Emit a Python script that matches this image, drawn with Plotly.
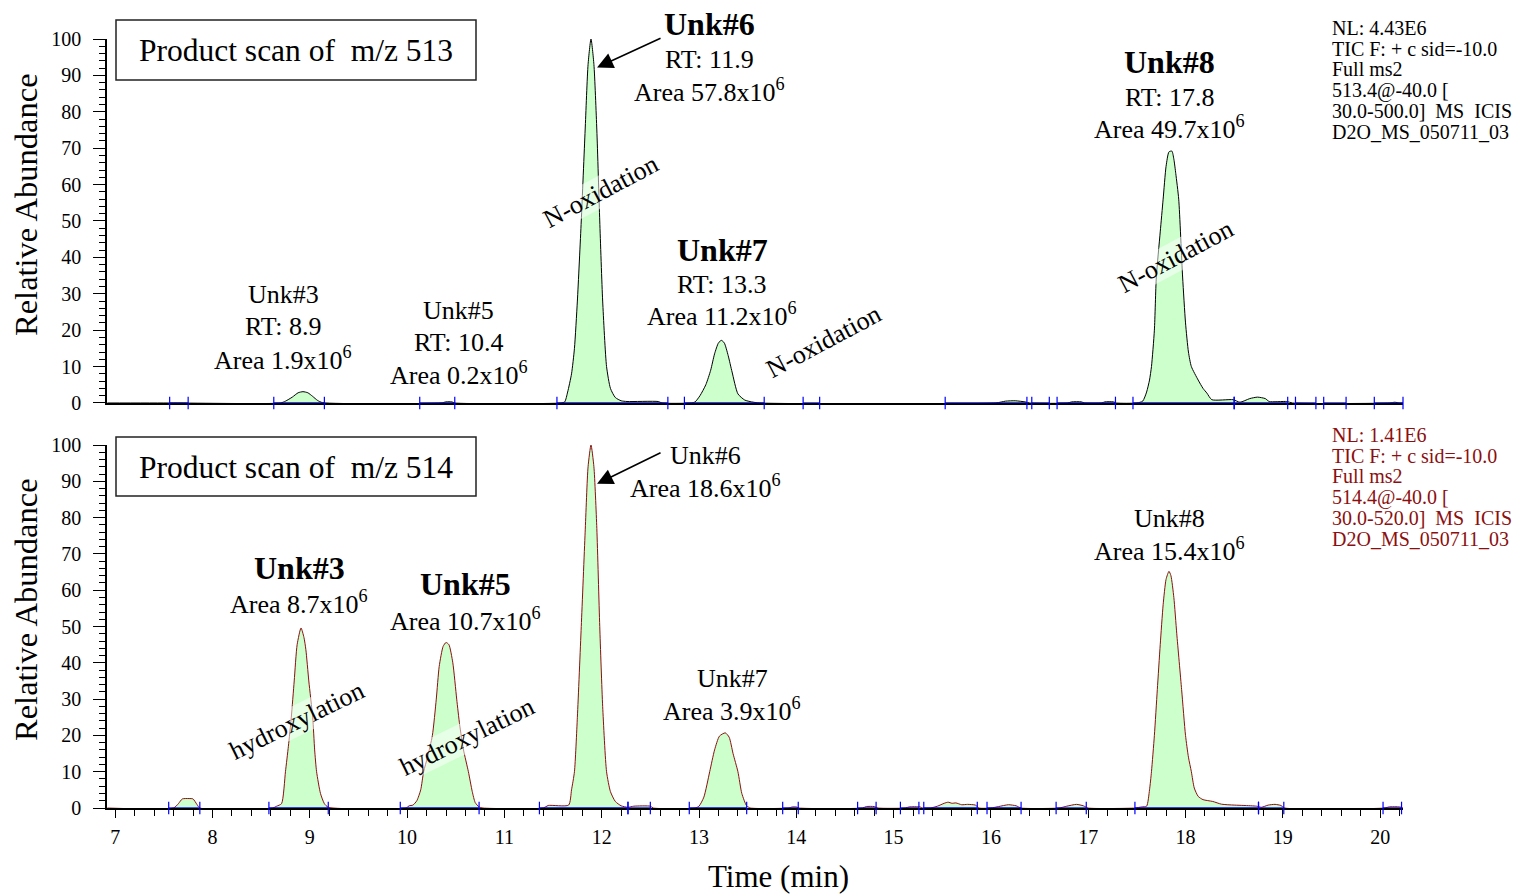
import plotly.graph_objects as go

FONT = "Liberation Serif, Times New Roman, serif"

# ---------------- data: m/z 513 (top panel) ----------------
time_513 = [6.92, 7.60, 8.70, 8.75, 8.82, 8.88, 8.93, 8.98, 9.03, 9.08, 9.13, 10.35, 10.40, 10.46, 10.49,
            11.58, 11.62, 11.65, 11.69, 11.72, 11.75, 11.79, 11.83, 11.86, 11.89, 11.92, 11.95, 11.98, 12.01,
            12.05, 12.09, 12.14, 12.20, 12.26, 12.58, 12.62,
            12.92, 12.96, 13.01, 13.07, 13.12, 13.16, 13.20, 13.23, 13.26, 13.30, 13.34, 13.40, 13.47, 13.54, 13.62,
            16.05, 16.15, 16.25, 16.35, 16.40, 16.79, 16.83, 16.93, 16.96, 17.14, 17.17, 17.26, 17.29,
            17.50, 17.56, 17.60, 17.63, 17.65, 17.68, 17.70, 17.74, 17.77, 17.80, 17.83, 17.86, 17.88, 17.90,
            17.93, 17.97, 18.00, 18.03, 18.06, 18.13, 18.18, 18.22, 18.27, 18.49, 18.56, 18.66, 18.74, 18.82,
            18.86, 19.04, 19.10, 20.10, 20.15, 20.20, 20.235]
abund_513 = [0, 0, 0, 0.5, 1.6, 2.8, 3.1, 2.8, 1.8, 0.7, 0.1, 0, 0.3, 0.3, 0,
             0, 0.3, 3, 8, 15, 28, 50, 75, 93, 100, 93, 75, 50, 28,
             10, 4, 1.5, 0.6, 0.4, 0.4, 0,
             0, 0.3, 2, 5, 9, 13.5, 16.5, 17.2, 16.5, 13, 8.5, 2.5, 0.8, 0.3, 0,
             0, 0.5, 0.6, 0.3, 0, 0, 0.3, 0.3, 0, 0, 0.3, 0.3, 0,
             0, 0.5, 3, 6.3, 10, 20, 34.6, 47, 56, 65, 69, 69.2, 67, 63,
             56, 34.6, 22, 14, 10, 6.3, 4, 2.7, 0.9, 0.9, 0.2, 1.2, 1.6, 1.2,
             0.4, 0.4, 0, 0, 0.2, 0, 0]

# ---------------- data: m/z 514 (bottom panel) ----------------
time_514 = [6.92, 7.60, 7.65, 7.69, 7.76, 7.80, 7.84, 7.87,
            8.62, 8.66, 8.71, 8.75, 8.78, 8.81, 8.84, 8.87, 8.91, 8.94, 8.96, 8.99, 9.03, 9.05, 9.07, 9.11, 9.15, 9.19,
            9.99, 10.02, 10.06, 10.10, 10.14, 10.17, 10.21, 10.26, 10.30, 10.33, 10.37, 10.40, 10.43, 10.47, 10.51,
            10.54, 10.58, 10.63, 10.67, 10.70, 10.74, 10.78,
            11.40, 11.45, 11.66, 11.69, 11.72, 11.75, 11.79, 11.83, 11.86, 11.89, 11.92, 11.95, 11.98, 12.01,
            12.05, 12.09, 12.14, 12.20, 12.27, 12.33, 12.50, 12.53,
            12.96, 13.00, 13.05, 13.11, 13.16, 13.21, 13.27, 13.31, 13.35, 13.40, 13.44, 13.49, 13.53,
            13.92, 13.96, 14.00, 14.03, 14.68, 14.72, 14.80, 14.84, 15.12, 15.16, 15.27, 15.30,
            15.38, 15.45, 15.52, 15.56, 15.60, 15.64, 15.70, 15.76, 15.84, 15.88,
            16.00, 16.08, 16.18, 16.26, 16.31, 16.70, 16.78, 16.88, 16.95, 17.00,
            17.48, 17.55, 17.60, 17.63, 17.65, 17.68, 17.71, 17.74, 17.77, 17.80, 17.83, 17.85, 17.88, 17.91,
            17.96, 18.00, 18.03, 18.06, 18.09, 18.13, 18.18, 18.28, 18.37, 18.50, 18.60, 18.73, 18.78,
            18.85, 18.92, 18.98, 19.02, 20.05, 20.09, 20.20, 20.235]
abund_514 = [0, 0, 1.2, 2.5, 2.6, 2.5, 1.0, 0,
             0, 0.5, 1.2, 10, 17, 25, 35, 45, 49.6, 47, 43.6, 35, 25, 16, 10, 4, 1.2, 0.2,
             0, 0.6, 0.8, 2, 5, 10, 14, 20, 30, 39, 44.5, 45.6, 45, 40, 30,
             23, 16, 10, 4.5, 1.5, 0.3, 0,
             0, 0.7, 0.8, 5, 10, 25, 50, 76, 94, 100, 94, 77, 50, 28,
             10, 4.5, 1.8, 0.6, 0.2, 0.5, 0.5, 0,
             0, 0.5, 3, 10, 16, 19.8, 20.7, 19.5, 15, 10, 4, 0.6, 0,
             0, 0.3, 0.3, 0, 0, 0.4, 0.4, 0, 0, 0.3, 0.3, 0,
             0, 0.5, 1.3, 1.6, 1.3, 1.4, 0.9, 1.0, 0.8, 0,
             0, 0.4, 0.9, 0.6, 0, 0, 0.5, 1.0, 0.6, 0,
             0, 0.3, 0.5, 5, 10, 20, 32.6, 45, 56, 63, 65.2, 64, 58, 48,
             32.6, 20, 14, 10, 5.5, 3.2, 2.3, 1.8, 1.05, 0.8, 0.7, 0.5, 0.2,
             0.8, 1.0, 0.7, 0, 0, 0.3, 0.3, 0]

# integration baselines (start, end) in minutes
base_513_start = [7.56, 8.63, 10.13, 11.54, 12.85, 14.07, 15.53, 16.42, 16.68, 17.46, 18.50, 19.13, 19.42, 19.94]
base_513_end = [7.75, 9.15, 10.49, 12.68, 13.67, 14.24, 16.37, 16.60, 17.28, 18.50, 19.05, 19.34, 19.65, 20.235]
base_514_start = [7.55, 8.58, 9.93, 11.36, 12.27, 12.90, 13.86, 14.63, 15.07, 15.31, 15.96, 16.67, 17.48, 18.75, 20.03]
base_514_end = [7.87, 9.19, 10.74, 12.27, 12.50, 13.49, 14.02, 14.82, 15.26, 15.86, 16.31, 16.98, 18.75, 19.01, 20.22]

# ---------------- labels ----------------
x_tick_vals = [7, 8, 9, 10, 11, 12, 13, 14, 15, 16, 17, 18, 19, 20]
x_tick_text = ["7", "8", "9", "10", "11", "12", "13", "14", "15", "16", "17", "18", "19", "20"]
y_tick_vals = [0, 10, 20, 30, 40, 50, 60, 70, 80, 90, 100]
y_tick_text = ["0", "10", "20", "30", "40", "50", "60", "70", "80", "90", "100"]

info_513 = ["NL: 4.43E6", "TIC F: + c sid=-10.0", "Full ms2", "513.4@-40.0 [",
            "30.0-500.0]  MS  ICIS", "D2O_MS_050711_03"]
info_514 = ["NL: 1.41E6", "TIC F: + c sid=-10.0", "Full ms2", "514.4@-40.0 [",
            "30.0-520.0]  MS  ICIS", "D2O_MS_050711_03"]

# peak labels: (text, x[min], y[% abundance], size, bold)
labels_513 = [("Unk#3", 8.725, 29.7, 26, False), ("RT: 8.9", 8.725, 20.9, 26, False),
              ("Area 1.9x10<sup>6</sup>", 8.725, 12.1, 26, False),
              ("Unk#5", 10.53, 25.3, 26, False), ("RT: 10.4", 10.53, 16.5, 26, False),
              ("Area 0.2x10<sup>6</sup>", 10.53, 8.0, 26, False),
              ("Unk#6", 13.11, 104.2, 32, True), ("RT: 11.9", 13.11, 94.3, 26, False),
              ("Area 57.8x10<sup>6</sup>", 13.11, 85.8, 26, False),
              ("Unk#7", 13.24, 42.1, 32, True), ("RT: 13.3", 13.24, 32.5, 26, False),
              ("Area 11.2x10<sup>6</sup>", 13.24, 24.2, 26, False),
              ("Unk#8", 17.84, 93.6, 32, True), ("RT: 17.8", 17.84, 83.9, 26, False),
              ("Area 49.7x10<sup>6</sup>", 17.84, 75.6, 26, False)]
labels_514 = [("Unk#3", 8.89, 66.1, 32, True), ("Area 8.7x10<sup>6</sup>", 8.89, 56.6, 26, False),
              ("Unk#5", 10.60, 61.7, 32, True), ("Area 10.7x10<sup>6</sup>", 10.60, 51.8, 26, False),
              ("Unk#6", 13.07, 97.2, 26, False), ("Area 18.6x10<sup>6</sup>", 13.07, 88.5, 26, False),
              ("Unk#7", 13.34, 35.8, 26, False), ("Area 3.9x10<sup>6</sup>", 13.34, 27.1, 26, False),
              ("Unk#8", 17.84, 79.8, 26, False), ("Area 15.4x10<sup>6</sup>", 17.84, 71.1, 26, False)]
# rotated reaction labels: (text, x, y)
rot_513 = [("N-oxidation", 11.99, 58.1), ("N-oxidation", 14.28, 16.8), ("N-oxidation", 17.90, 40.2)]
rot_514 = [("hydroxylation", 8.87, 24.1), ("hydroxylation", 10.62, 19.7)]

DARKRED = "#8b0f0f"
FILL = "#ccffcc"

fig = go.Figure()


def chrom(x, y, color, xa, ya):
    fig.add_trace(go.Scatter(x=x, y=y, mode="lines", xaxis=xa, yaxis=ya,
                             line=dict(color=color, width=1, shape="spline", smoothing=0.6),
                             fill="tozeroy", fillcolor=FILL, hoverinfo="skip", showlegend=False))


def baselines(starts, ends, xa, ya):
    bx, by = [], []
    for s, e in zip(starts, ends):
        bx += [s, e, None]
        by += [0, 0, None]
    fig.add_trace(go.Scatter(x=bx, y=by, mode="lines+markers", xaxis=xa, yaxis=ya,
                             line=dict(color="#0000ff", width=1.3),
                             marker=dict(symbol="line-ns-open", size=9,
                                         line=dict(color="#0000ff", width=1.2)),
                             cliponaxis=False, hoverinfo="skip", showlegend=False))


chrom(time_513, abund_513, "black", "x2", "y2")
baselines(base_513_start, base_513_end, "x2", "y2")
chrom(time_514, abund_514, DARKRED, "x", "y")
baselines(base_514_start, base_514_end, "x", "y")

XR = [6.916, 20.235]
yax = dict(range=[0, 100], tickvals=y_tick_vals, ticktext=y_tick_text, ticks="outside", ticklen=12,
           tickwidth=1, tickcolor="black", showline=True, linecolor="black", linewidth=1.5,
           showgrid=False, zeroline=False, tickfont=dict(family=FONT, size=20, color="black"),
           ticklabelstandoff=8, automargin=False,
           minor=dict(dtick=2, ticks="outside", ticklen=6, tickcolor="black", tickwidth=1))

fig.update_layout(
    width=1525, height=894, plot_bgcolor="white", paper_bgcolor="white",
    margin=dict(l=107, r=122, t=39, b=86),
    font=dict(family=FONT, color="black"),
    xaxis=dict(domain=[0, 1], anchor="y", range=XR, tickvals=x_tick_vals, ticktext=x_tick_text,
               ticks="outside", ticklen=8, tickcolor="black", tickwidth=1, showline=True,
               linecolor="black", linewidth=1.5, showgrid=False, zeroline=False, layer="below traces",
               tickfont=dict(family=FONT, size=20, color="black"), ticklabelstandoff=2, automargin=False,
               minor=dict(dtick=0.2, ticks="outside", ticklen=6, tickcolor="black", tickwidth=1)),
    yaxis=dict(domain=[0, 0.472], anchor="x", **yax),
    xaxis2=dict(domain=[0, 1], anchor="y2", range=XR, matches="x", showticklabels=False, ticks="",
                showline=True, linecolor="black", linewidth=1.5, showgrid=False, zeroline=False,
                layer="below traces", automargin=False),
    yaxis2=dict(domain=[0.5267, 1], anchor="x2", **yax),
)

ann = []
# axis titles
for yc in [(808 - 205) / 769, (808 - 610) / 769]:
    ann.append(dict(text="Relative Abundance", xref="paper", yref="paper", x=(26 - 107) / 1296, y=yc,
                    xanchor="center", yanchor="middle", textangle=-90, showarrow=False,
                    font=dict(family=FONT, size=32.5, color="black")))
ann.append(dict(text="Time (min)", xref="paper", yref="paper", x=(778 - 107) / 1296, y=(808 - 876) / 769,
                xanchor="center", yanchor="middle", showarrow=False,
                font=dict(family=FONT, size=31, color="black")))

# panel boxes
for txt, yc, y0, y1 in [("Product scan of  m/z 513", 51, 20, 80), ("Product scan of  m/z 514", 467, 437, 496)]:
    fig.add_shape(type="rect", xref="paper", yref="paper", x0=(116 - 107) / 1296, x1=(476 - 107) / 1296,
                  y0=(808 - y1) / 769, y1=(808 - y0) / 769, line=dict(color="#222", width=1.5),
                  fillcolor="white")
    ann.append(dict(text=txt, xref="paper", yref="paper", x=(296 - 107) / 1296, y=(808 - yc) / 769,
                    xanchor="center", yanchor="middle", showarrow=False,
                    font=dict(family=FONT, size=31.5, color="black")))

# info text blocks
for lines, top, col in [(info_513, 28, "black"), (info_514, 435, DARKRED)]:
    for i, t in enumerate(lines):
        ann.append(dict(text=t, xref="paper", yref="paper", x=(1331 - 107) / 1296,
                        y=(808 - (top + 20.7 * i)) / 769, xanchor="left", yanchor="middle",
                        showarrow=False, borderpad=0, font=dict(family=FONT, size=20, color=col)))

# peak labels (y given in % abundance, placed on the axis domain so values above 100 stay visible)
for labels, xr, yr in [(labels_513, "x2", "y2 domain"), (labels_514, "x", "y domain")]:
    for t, x, y, s, b in labels:
        ann.append(dict(text=f"<b>{t}</b>" if b else t, xref=xr, yref=yr, x=x, y=y / 100,
                        xanchor="center", yanchor="middle", showarrow=False,
                        font=dict(family=FONT, size=s, color="black")))

# rotated reaction labels
for labels, xr, yr, ang in [(rot_513, "x2", "y2", -28), (rot_514, "x", "y", -26)]:
    for t, x, y in labels:
        ann.append(dict(text=t, xref=xr, yref=yr, x=x, y=y, xanchor="center", yanchor="middle",
                        textangle=ang, showarrow=False, bgcolor="rgba(255,255,255,0.5)", borderpad=0,
                        font=dict(family=FONT, size=26, color="black")))

# arrows to Unk#6
for xr, yr, hy, ty in [("x2", "y2", 92.2, 100.4), ("x", "y", 89.3, 98.1)]:
    ann.append(dict(text="", xref=xr, yref=yr, axref=xr, ayref=yr, x=11.952, y=hy, ax=12.62, ay=ty,
                    showarrow=True, arrowhead=2, arrowsize=2, arrowwidth=1.6, arrowcolor="black"))

fig.update_layout(annotations=ann)
fig.write_html("out.html", config={"displayModeBar": False},
               post_script="document.body.style.margin='0';")
